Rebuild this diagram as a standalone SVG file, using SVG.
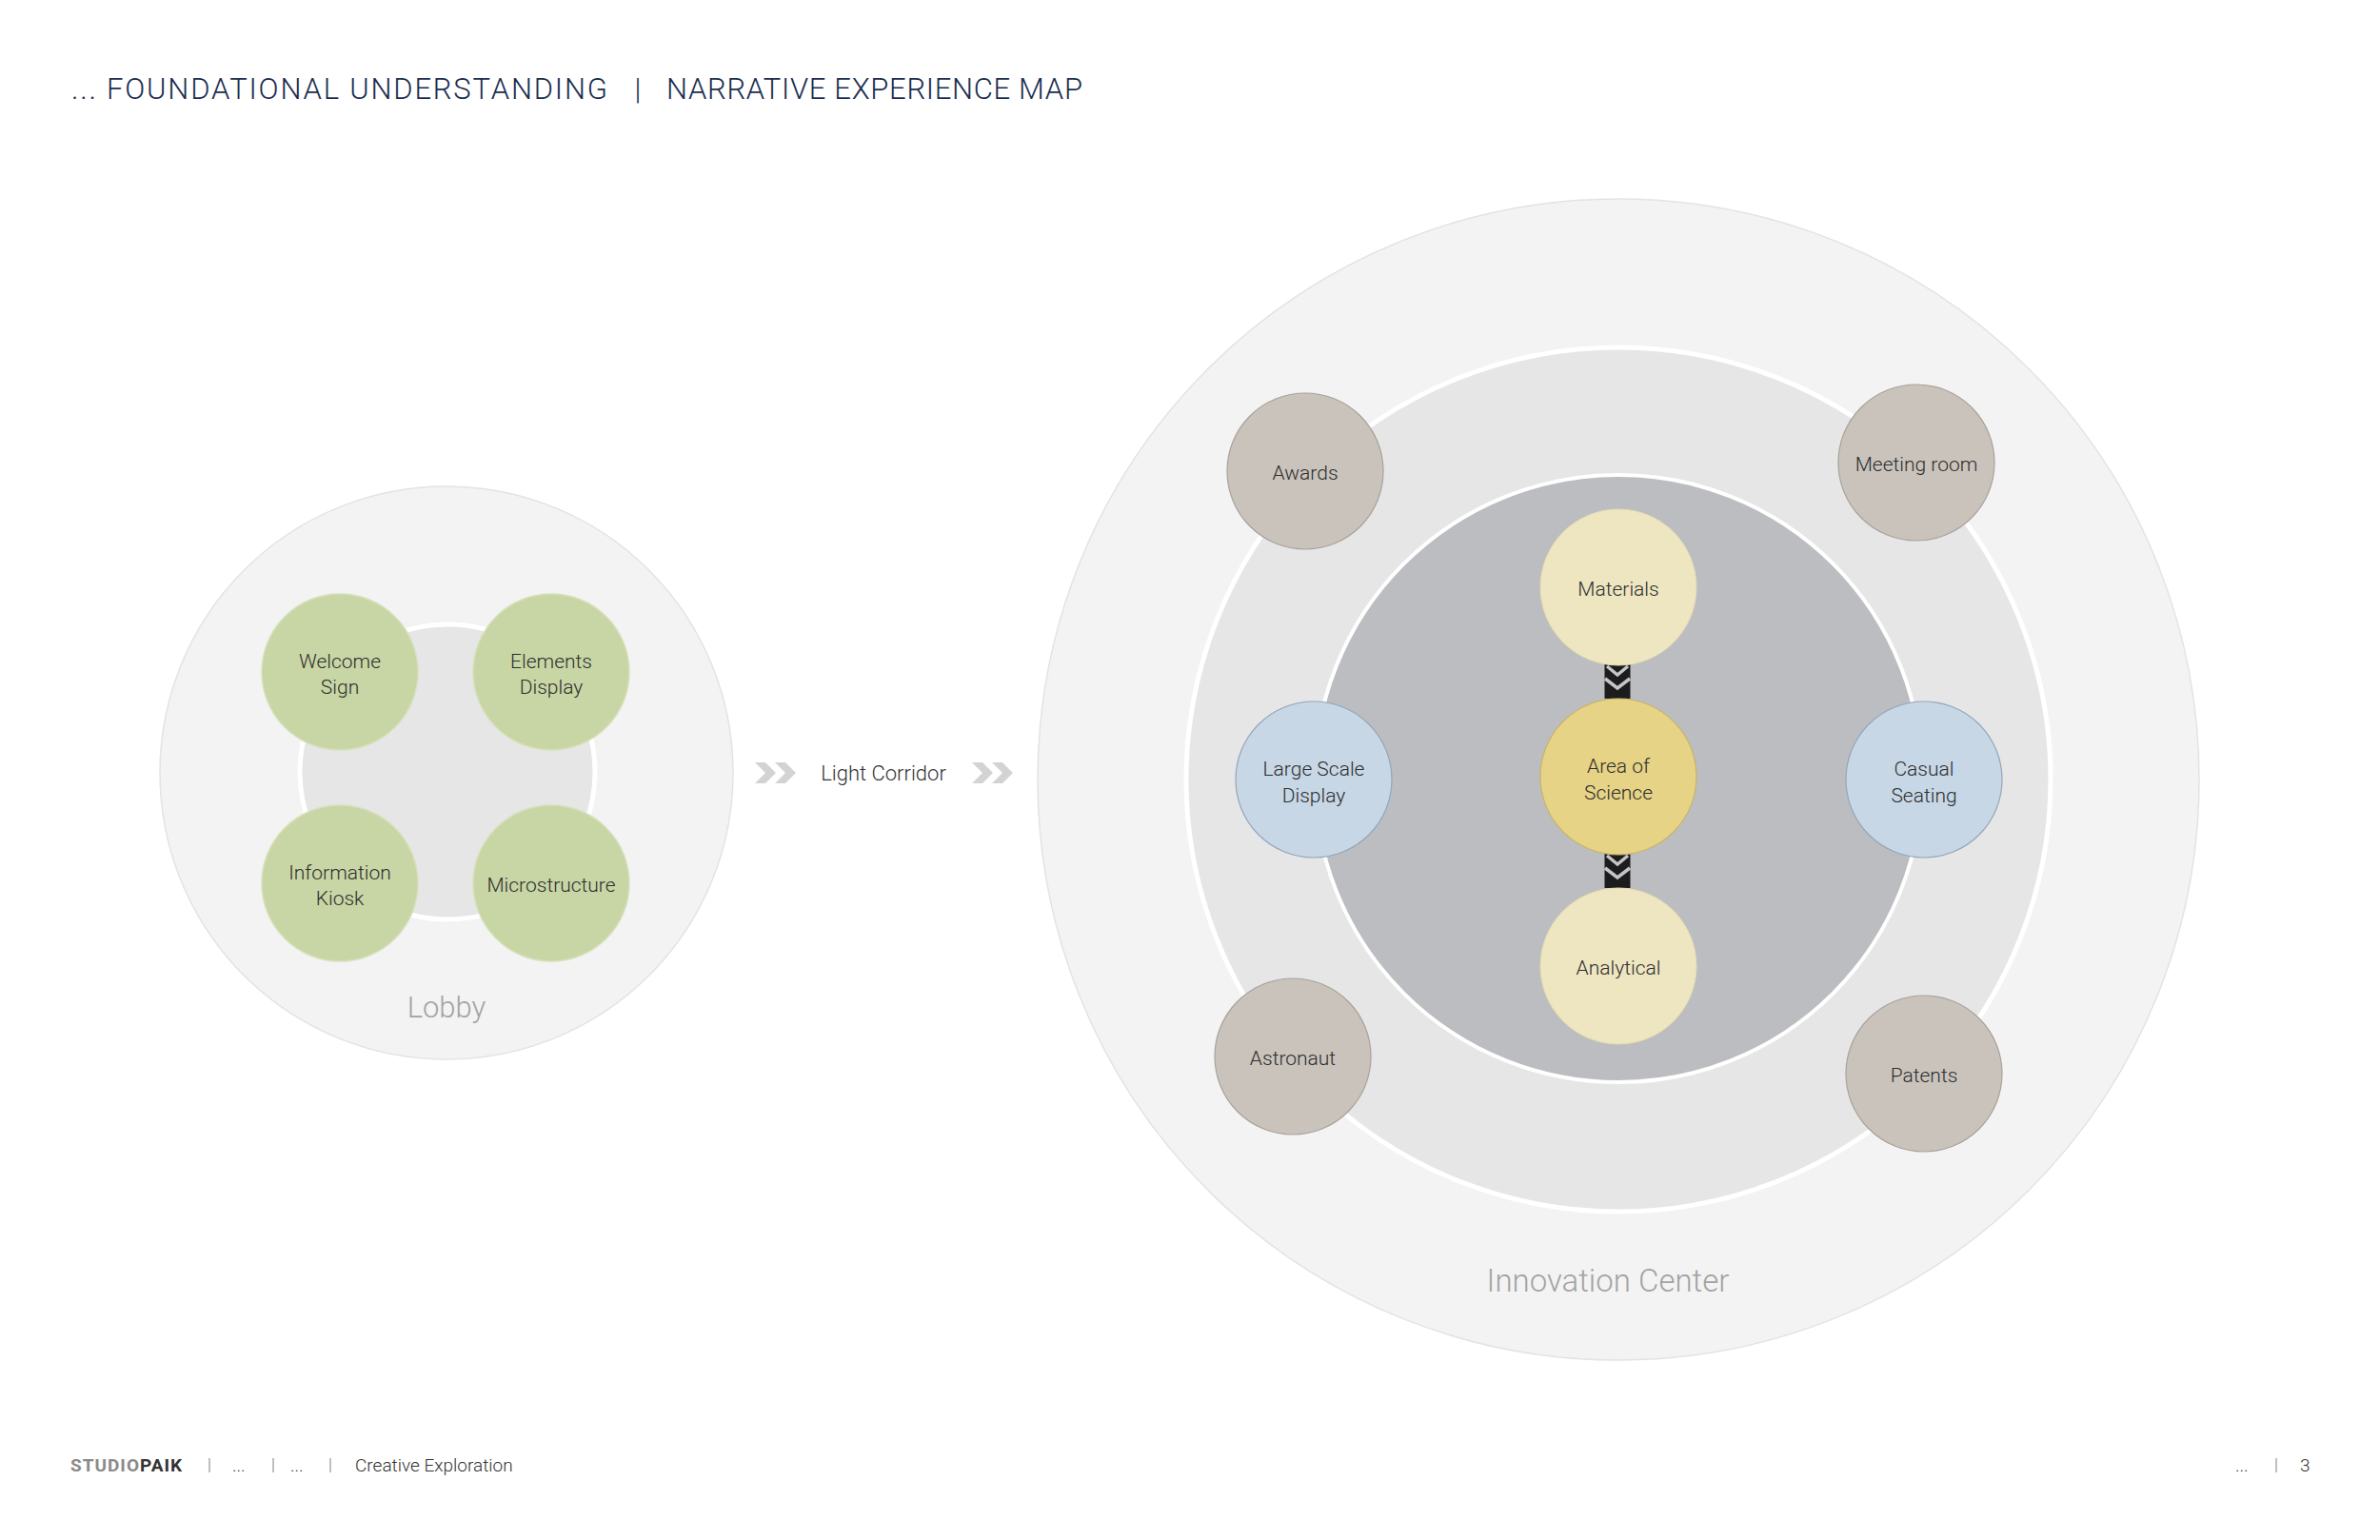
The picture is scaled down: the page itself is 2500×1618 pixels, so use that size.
<svg xmlns="http://www.w3.org/2000/svg" width="2500" height="1618" viewBox="0 0 2500 1618">
<style>
text{font-family:Roboto,"Liberation Sans",Arial,sans-serif;font-weight:300;}
.t{font-size:21px;fill:#2e2e2e;text-anchor:middle;}
.green{fill:#c8d6a5;stroke:#d6e0bb;stroke-width:1.5;}
.taupe{fill:#c9c3bc;stroke:#a8a29a;stroke-width:1.2;}
.blue{fill:#c7d7e6;stroke:#93a6b8;stroke-width:1.2;}
.pale{fill:#ede6c1;stroke:#e3dbb0;stroke-width:1;}
.gold{fill:#e6d386;stroke:#c7b56b;stroke-width:1.2;}
.zone{font-size:33px;fill:#a3a3a3;text-anchor:middle;}
.foot{font-size:19px;fill:#333;}
.ttl{font-size:31px;fill:#1b2d4f;}
.sep{stroke:#aaa;stroke-width:1.5;}
.chev{fill:#d3d3d3;}
</style>
<defs>
<g id="dchev">
<rect x="-13.5" y="0" width="27" height="36" fill="#1c1c1c"/>
<polyline points="-11,2 0,11 11,2" fill="none" stroke="#c4c5c8" stroke-width="3.5"/>
<polyline points="-13,15 0,25 13,15" fill="none" stroke="#c4c5c8" stroke-width="3.5"/>
</g>
<polygon id="rchev" points="0,0 11,0 22,11 11,22 0,22 11,11"/>
</defs>
<rect width="2500" height="1618" fill="#ffffff"/>

<g id="title">
<text class="ttl" x="75" y="104" textLength="563" lengthAdjust="spacing">... FOUNDATIONAL UNDERSTANDING</text>
<text class="ttl" x="670" y="104" text-anchor="middle">|</text>
<text class="ttl" x="700" y="104" textLength="437" lengthAdjust="spacing">NARRATIVE EXPERIENCE MAP</text>
</g>

<g id="lobby">
<circle cx="469" cy="812" r="301" fill="#f3f3f3" stroke="#e3e3e3" stroke-width="1.5"/>
<circle cx="470" cy="811" r="155" fill="#e6e6e6" stroke="#ffffff" stroke-width="5"/>
<text class="zone" x="469" y="1069" style="font-size:31px">Lobby</text>
</g>
<g id="welcome-sign"><circle class="green" cx="357" cy="706" r="82"/><text class="t" x="357" y="702">Welcome</text><text class="t" x="357" y="729">Sign</text></g>
<g id="elements-display"><circle class="green" cx="579" cy="706" r="82"/><text class="t" x="579" y="702">Elements</text><text class="t" x="579" y="729">Display</text></g>
<g id="information-kiosk"><circle class="green" cx="357" cy="928" r="82"/><text class="t" x="357" y="924">Information</text><text class="t" x="357" y="951">Kiosk</text></g>
<g id="microstructure"><circle class="green" cx="579" cy="928" r="82"/><text class="t" x="579" y="937">Microstructure</text></g>

<g id="light-corridor">
<use href="#rchev" class="chev" x="793" y="801"/>
<use href="#rchev" class="chev" x="814" y="801"/>
<text x="928" y="820" style="font-size:22px;fill:#333" text-anchor="middle">Light Corridor</text>
<use href="#rchev" class="chev" x="1021" y="801"/>
<use href="#rchev" class="chev" x="1042" y="801"/>
</g>

<g id="innovation-center">
<circle cx="1700" cy="819" r="610" fill="#f3f3f3" stroke="#e3e3e3" stroke-width="1.5"/>
<circle cx="1700" cy="819" r="454" fill="#e6e6e6" stroke="#ffffff" stroke-width="5"/>
<circle cx="1700" cy="818" r="319" fill="#bcbdc0" stroke="#ffffff" stroke-width="4"/>
<text class="zone" x="1689" y="1357">Innovation Center</text>
</g>

<g id="connectors">
<use href="#dchev" x="1699" y="698"/>
<use href="#dchev" x="1699" y="897"/>
</g>

<g id="materials"><circle class="pale" cx="1700" cy="617" r="82"/><text class="t" x="1700" y="626">Materials</text></g>
<g id="area-of-science"><circle class="gold" cx="1700" cy="816" r="82"/><text class="t" x="1700" y="812">Area of</text><text class="t" x="1700" y="840">Science</text></g>
<g id="analytical"><circle class="pale" cx="1700" cy="1015" r="82"/><text class="t" x="1700" y="1024">Analytical</text></g>
<g id="large-scale-display"><circle class="blue" cx="1380" cy="819" r="82"/><text class="t" x="1380" y="815">Large Scale</text><text class="t" x="1380" y="843">Display</text></g>
<g id="casual-seating"><circle class="blue" cx="2021" cy="819" r="82"/><text class="t" x="2021" y="815">Casual</text><text class="t" x="2021" y="843">Seating</text></g>
<g id="awards"><circle class="taupe" cx="1371" cy="495" r="82"/><text class="t" x="1371" y="504">Awards</text></g>
<g id="meeting-room"><circle class="taupe" cx="2013" cy="486" r="82"/><text class="t" x="2013" y="495">Meeting room</text></g>
<g id="astronaut"><circle class="taupe" cx="1358" cy="1110" r="82"/><text class="t" x="1358" y="1119">Astronaut</text></g>
<g id="patents"><circle class="taupe" cx="2021" cy="1128" r="82"/><text class="t" x="2021" y="1137">Patents</text></g>

<g id="footer">
<text x="74" y="1546" style="font-size:19px;font-weight:bold;letter-spacing:1px"><tspan fill="#8a8a8a">STUDIO</tspan><tspan fill="#333">PAIK</tspan></text>
<line class="sep" x1="220" y1="1532" x2="220" y2="1547"/>
<text class="foot" x="244" y="1546">...</text>
<line class="sep" x1="287" y1="1532" x2="287" y2="1547"/>
<text class="foot" x="305" y="1546">...</text>
<line class="sep" x1="347" y1="1532" x2="347" y2="1547"/>
<text class="foot" x="373" y="1546">Creative Exploration</text>
<text class="foot" x="2348" y="1546">...</text>
<line class="sep" x1="2391" y1="1532" x2="2391" y2="1547"/>
<text class="foot" x="2416" y="1546">3</text>
</g>
</svg>
